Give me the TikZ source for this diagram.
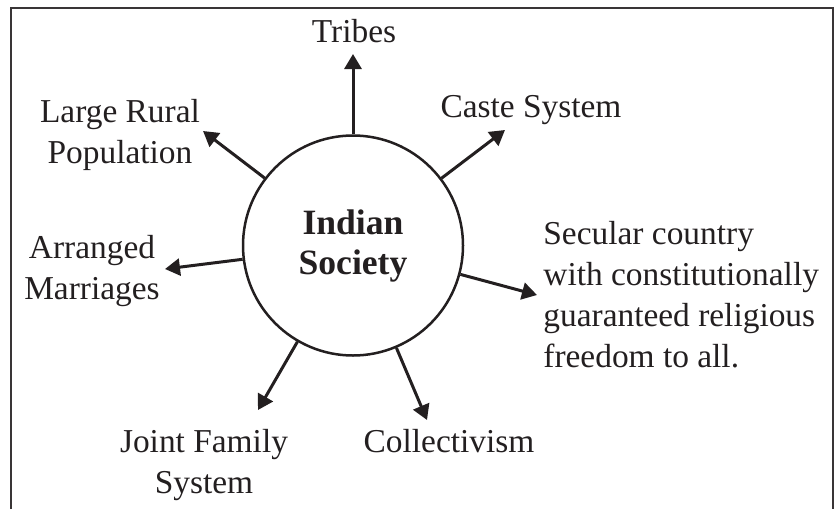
\documentclass[tikz,border=0pt]{standalone}
\usepackage{fontspec}
\setmainfont{Liberation Serif}
\usetikzlibrary{arrows.meta}
\definecolor{ink}{HTML}{231F20}

\begin{document}
\begin{tikzpicture}[x=0.5pt,y=-0.5pt,
        lbl/.style={inner sep=0pt,text=ink,font=\fontsize{16.7}{20.5}\selectfont},
        spoke/.style={draw=ink,line width=1.5pt,-{Triangle[length=7.5pt,width=8.5pt]}}]
    \useasboundingbox (0,0) rectangle (840,509);
    \draw[ink!90,line width=1.2pt] (11,509) -- (11,8) -- (833,8) -- (833,509);

    \node[circle,draw=ink,line width=1.25pt,minimum size=110pt,inner sep=0pt,
        align=center,text=ink,font=\bfseries\fontsize{17.8}{20}\selectfont]
        (soc) at (353,245.5) {Indian\\Society};

    \node[lbl,anchor=base] (tribes) at (354,42) {Tribes};
    \node[lbl,align=center] (rural) at (120,135) {Large Rural\\Population};
    \node[lbl,anchor=base] (caste) at (531,117) {Caste System};
    \node[lbl,align=left,anchor=west] (secular) at (543,295)
        {Secular country\\with constitutionally\\guaranteed religious\\freedom to all.};
    \node[lbl,align=center] (arranged) at (92,271) {Arranged\\Marriages};
    \node[lbl,align=center] (joint) at (204,465) {Joint Family\\System};
    \node[lbl,anchor=base] (collect) at (449,452) {Collectivism};

    \coordinate (tribestip) at (353,54);
    \coordinate (ruraltip) at (203,131);
    \coordinate (castetip) at (505,130);
    \coordinate (seculartip) at (537,295);
    \coordinate (arrangedtip) at (165,269);
    \coordinate (jointtip) at (258,410);
    \coordinate (collecttip) at (427,420);

    \draw[spoke] (soc) -- (tribestip);
    \draw[spoke] (soc) -- (ruraltip);
    \draw[spoke] (soc) -- (castetip);
    \draw[spoke] (soc) -- (seculartip);
    \draw[spoke] (soc) -- (arrangedtip);
    \draw[spoke] (soc) -- (jointtip);
    \draw[spoke] (soc) -- (collecttip);
\end{tikzpicture}
\end{document}
